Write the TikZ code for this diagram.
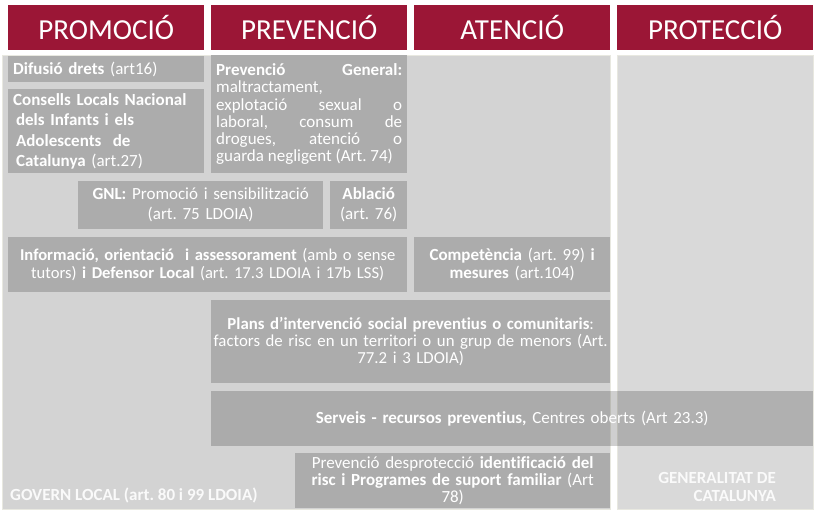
\documentclass[tikz,border=0pt]{standalone}
\usepackage{fontspec}
\setmainfont[RawFeature={-liga;-clig;-calt;-dlig}]{Carlito}
\usetikzlibrary{positioning}
\frenchspacing

\definecolor{hdred}{RGB}{155,22,54}
\definecolor{panelgray}{RGB}{211,211,211}
\definecolor{panelgraylt}{RGB}{217,217,217}
\definecolor{cellgray}{RGB}{172,172,172}
\definecolor{edgegray}{RGB}{232,232,224}

\begin{document}
\begin{tikzpicture}[
  x=1pt, y=-1pt,
  font=\fontsize{17}{17.5}\selectfont,
  head/.style={fill=hdred, text=white, anchor=north west, inner sep=0pt,
    minimum width=196pt, minimum height=45pt, font=\fontsize{29}{32}\selectfont},
  panel/.style={draw=edgegray, line width=1pt, anchor=north west, inner sep=0pt},
  cell/.style={fill=cellgray, text=white, anchor=north west, inner xsep=5pt, inner ysep=0pt, align=center},
  leftcell/.style={cell, align=left},
  lbl/.style={text=white!96!gray, font=\fontsize{17}{18.5}\selectfont\bfseries, inner sep=0pt},
]
\useasboundingbox (0,0) rectangle (824,517);

% ===== Column headers =====
\node[head] (hprom) at (8,5) {PROMOCIÓ};
\node[head] (hprev) at (211,5) {PREVENCIÓ};
\node[head] (haten) at (414,5) {ATENCIÓ};
\node[head] (hprot) at (617,5) {PROTECCIÓ};

% ===== Background panels: local government / Generalitat =====
\node[panel, fill=panelgray, minimum width=608pt, minimum height=454pt] (local) at (2,55) {};
\node[panel, fill=panelgraylt, minimum width=196pt, minimum height=454pt] (gencat) at (617,55) {};

\node[lbl, anchor=base west] (govlbl) at (10,500) {GOVERN LOCAL (art. 80 i 99 LDOIA)};
\node[lbl, align=right, anchor=east] (genlbl) at (776,487) {GENERALITAT DE\\CATALUNYA};

% ===== Promotion column =====
\node[leftcell, minimum width=196pt, minimum height=26pt, text width=186pt] (difusio) at (8,56)
  {\textbf{Difusió drets} (art16)};
\node[leftcell, minimum width=196pt, minimum height=84pt, text width=186pt,
      font=\fontsize{17}{20.5}\selectfont] (consells) at (8,89)
  {\textbf{Consells Locals Nacional}\\\textbf{\,dels Infants i els}\\\textbf{\,Adolescents\ \ de}\\\textbf{\,Catalunya} (art.27)};

% ===== Prevention column (justified block) =====
\node[cell, align=justify, minimum width=196pt, minimum height=118pt, text width=186pt,
      font=\fontsize{17}{17.3}\selectfont] (prevgen) at (211,55)
  {\tolerance=10000 \hbadness=10000 \textbf{Prevenció General:}\linebreak maltractament,\\explotació sexual o\linebreak laboral, consum de\linebreak drogues, atenció o\linebreak guarda negligent (Art. 74)};

\node[cell, minimum width=245pt, minimum height=48pt, text width=235pt,
      font=\fontsize{17}{20}\selectfont] (gnl) at (78,181)
  {\textbf{GNL:} Promoció i sensibilització\\(art. 75 LDOIA)};
\node[cell, minimum width=77pt, minimum height=48pt, text width=67pt,
      font=\fontsize{17}{20}\selectfont] (ablacio) at (330,181)
  {\textbf{Ablació}\\(art. 76)};

\node[cell, inner xsep=0pt, minimum width=399pt, minimum height=55pt, text width=399pt,
      font=\fontsize{16.6}{18}\selectfont] (informacio) at (8,237)
  {\textbf{Informació, orientació\ \ i assessorament} (amb o sense\\tutors) \textbf{i Defensor Local} (art. 17.3 LDOIA i 17b LSS)};

% ===== Attention column =====
\node[cell, minimum width=196pt, minimum height=55pt, text width=186pt,
      font=\fontsize{17}{18}\selectfont] (competencia) at (414,237)
  {\textbf{Competència} (art. 99) \textbf{i}\\\textbf{mesures} (art.104)};

% ===== Blocks spanning several columns =====
\node[cell, inner xsep=0pt, minimum width=399pt, minimum height=83pt, text width=399pt,
      font=\fontsize{16.8}{17.3}\selectfont] (plans) at (211,300)
  {\textbf{Plans d’intervenció social preventius o comunitaris}:\\factors de risc en un territori o un grup de menors (Art.\\77.2 i 3 LDOIA)};

\node[cell, fill=black, fill opacity=0.19, text opacity=1, minimum width=602pt, minimum height=55pt,
      text width=592pt] (serveis) at (211,391)
  {\textbf{Serveis - recursos preventius,} Centres oberts (Art 23.3)};

\node[cell, minimum width=315pt, minimum height=55pt, text width=305pt,
      font=\fontsize{17}{17}\selectfont] (desprot) at (295,453)
  {Prevenció desprotecció \textbf{identificació del}\\\textbf{risc i Programes de suport familiar} (Art\\78)};

\end{tikzpicture}
\end{document}
